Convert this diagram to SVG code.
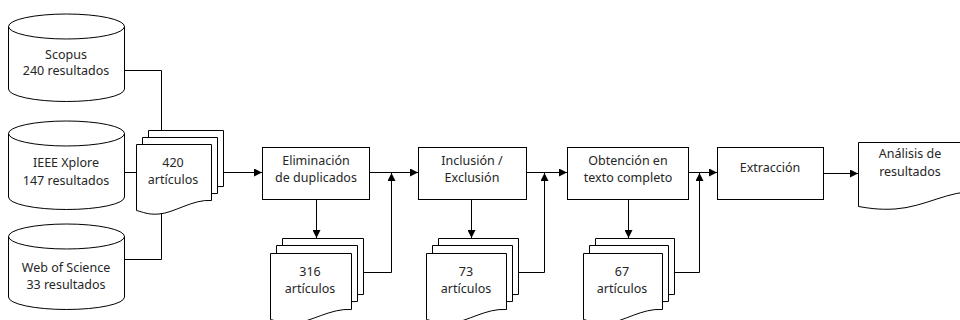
<svg xmlns="http://www.w3.org/2000/svg" width="960" height="320" viewBox="0 0 960 320">
<style>
.s{fill:#fff;stroke:#000;stroke-width:1}
.t{font-family:"Noto Sans","Open Sans",sans-serif;font-size:12.5px;fill:#262626;text-anchor:middle}
.c{fill:none;stroke:#000;stroke-width:1}
</style>
<defs>
<marker id="ah" markerUnits="userSpaceOnUse" markerWidth="9" markerHeight="8" refX="8" refY="4" orient="auto">
<path d="M0,0 L8,4 L0,8 z" fill="#000"/>
</marker>
</defs>
<rect width="960" height="320" fill="#fff"/>

<g id="scopus">
<path class="s" d="M8.5,26.5 A58,12.5 0 0 1 124.5,26.5 V89 A58,12.5 0 0 1 8.5,89 Z"/>
<path class="c" d="M8.5,26.5 A58,12.5 0 0 0 124.5,26.5"/>
<text class="t" x="66" y="59">Scopus</text>
<text class="t" x="66" y="75">240 resultados</text>
</g>

<g id="ieee">
<path class="s" d="M8.5,133.5 A58,12.5 0 0 1 124.5,133.5 V197 A58,12.5 0 0 1 8.5,197 Z"/>
<path class="c" d="M8.5,133.5 A58,12.5 0 0 0 124.5,133.5"/>
<text class="t" x="66" y="167">IEEE Xplore</text>
<text class="t" x="66" y="185">147 resultados</text>
</g>

<g id="wos">
<path class="s" d="M8.5,236.5 A58,12.5 0 0 1 124.5,236.5 V297 A58,12.5 0 0 1 8.5,297 Z"/>
<path class="c" d="M8.5,236.5 A58,12.5 0 0 0 124.5,236.5"/>
<text class="t" x="66" y="272">Web of Science</text>
<text class="t" x="66" y="289">33 resultados</text>
</g>

<g id="connectors">
<path class="c" d="M124.5,70.5 H161.5 V130"/>
<path class="c" d="M124.5,172.5 H136.5"/>
<path class="c" d="M124.5,259.5 H161.5 V212"/>
<path class="c" d="M223.5,172.5 H262" marker-end="url(#ah)"/>
<path class="c" d="M369.5,172.5 H418" marker-end="url(#ah)"/>
<path class="c" d="M316.5,199.5 V238" marker-end="url(#ah)"/>
<path class="c" d="M363.5,272.5 H391.5 V173" marker-end="url(#ah)"/>
<path class="c" d="M526.5,172.5 H567" marker-end="url(#ah)"/>
<path class="c" d="M471.5,199.5 V238" marker-end="url(#ah)"/>
<path class="c" d="M518.5,272.5 H544.5 V173" marker-end="url(#ah)"/>
<path class="c" d="M688.5,172.5 H717" marker-end="url(#ah)"/>
<path class="c" d="M628.5,199.5 V238" marker-end="url(#ah)"/>
<path class="c" d="M674.5,272.5 H699.5 V173" marker-end="url(#ah)"/>
<path class="c" d="M823.5,173.5 H858" marker-end="url(#ah)"/>
</g>

<g id="stack420">
<path class="s" d="M148.5,130.5 H223.5 V186.5 C205,185 186,199 171,200 C160,201 155,198 148.5,196.5 Z"/>
<path class="s" d="M142.5,137.5 H217.5 V193.5 C199,192 180,206 165,207 C154,208 149,205 142.5,203.5 Z"/>
<path class="s" d="M136.5,144.5 H211.5 V200.5 C193,199 174,213 159,214 C148,215 143,212 136.5,210.5 Z"/>
<text class="t" x="173" y="167">420</text>
<text class="t" x="173" y="184">artículos</text>
</g>

<g id="eliminacion">
<rect class="s" x="262.5" y="147.5" width="107" height="52"/>
<text class="t" x="316" y="165">Eliminación</text>
<text class="t" x="316" y="182">de duplicados</text>
</g>

<g id="stack316">
<path class="s" d="M282.5,238.5 H363.5 V294.5 C343,293 323,307 307,308 C295,309 289,306 282.5,304.5 Z"/>
<path class="s" d="M276.5,245.5 H357.5 V301.5 C337,300 317,314 301,315 C289,316 283,313 276.5,311.5 Z"/>
<path class="s" d="M270.5,253.5 H351.5 V309.5 C331,308 311,322 295,323 C283,324 277,321 270.5,319.5 Z"/>
<text class="t" x="310" y="276">316</text>
<text class="t" x="310" y="293">artículos</text>
</g>

<g id="inclusion">
<rect class="s" x="418.5" y="147.5" width="108" height="52"/>
<text class="t" x="472" y="165">Inclusión /</text>
<text class="t" x="472" y="182">Exclusión</text>
</g>

<g id="stack73">
<path class="s" d="M438.5,238.5 H518.5 V294.5 C498,293 479,307 463,308 C451,309 445,306 438.5,304.5 Z"/>
<path class="s" d="M432.5,245.5 H512.5 V301.5 C492,300 473,314 457,315 C445,316 439,313 432.5,311.5 Z"/>
<path class="s" d="M426.5,253.5 H506.5 V309.5 C486,308 467,322 451,323 C439,324 433,321 426.5,319.5 Z"/>
<text class="t" x="466" y="276">73</text>
<text class="t" x="466" y="293">artículos</text>
</g>

<g id="obtencion">
<rect class="s" x="567.5" y="147.5" width="121" height="52"/>
<text class="t" x="628" y="165">Obtención en</text>
<text class="t" x="628" y="182">texto completo</text>
</g>

<g id="stack67">
<path class="s" d="M595.5,238.5 H674.5 V294.5 C654,293 635,307 620,308 C608,309 602,306 595.5,304.5 Z"/>
<path class="s" d="M589.5,245.5 H668.5 V301.5 C648,300 629,314 614,315 C602,316 596,313 589.5,311.5 Z"/>
<path class="s" d="M583.5,253.5 H662.5 V309.5 C642,308 623,322 608,323 C596,324 590,321 583.5,319.5 Z"/>
<text class="t" x="622" y="276">67</text>
<text class="t" x="622" y="293">artículos</text>
</g>

<g id="extraccion">
<rect class="s" x="717.5" y="147.5" width="106" height="52"/>
<text class="t" x="770" y="172">Extracción</text>
</g>

<g id="analisis">
<path class="s" d="M858.5,142.5 H975 V192 C950,190 925,207 895,209 C878,210 868,208 858.5,206.5 Z"/>
<text class="t" x="910" y="158">Análisis de</text>
<text class="t" x="910" y="176">resultados</text>
</g>
</svg>
